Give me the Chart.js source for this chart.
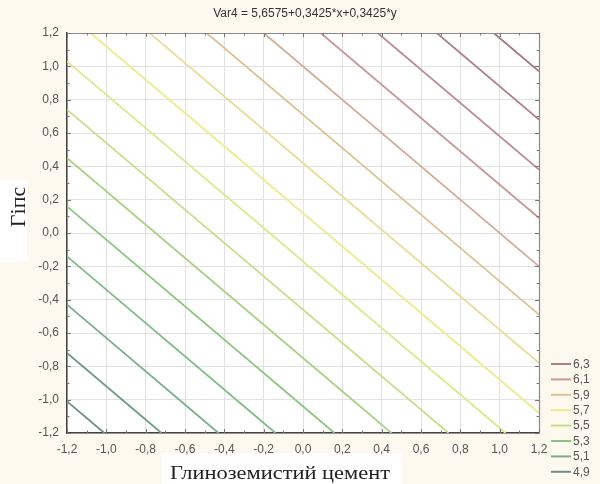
<!DOCTYPE html>
<html>
<head>
<meta charset="utf-8">
<script src="https://cdn.jsdelivr.net/npm/chart.js@4/dist/chart.umd.min.js"></script>
<style>
html,body{margin:0;padding:0;background:#fdf9ef;}
#wrap{width:600px;height:484px;position:relative;}
</style>
</head>
<body>
<div id="wrap"><canvas id="c" width="600" height="484"></canvas></div>
<script>
// Contour levels (Var4)
const levels = [4.9, 5.0, 5.1, 5.2, 5.3, 5.4, 5.5, 5.6, 5.7, 5.8, 5.9, 6.0, 6.1, 6.2, 6.3, 6.4];
// Where each contour line enters and leaves the plot (x = Глиноземистий цемент, y = Гіпс)
const startX = [-1.2, -1.2, -1.2, -1.2, -1.2, -1.2, -1.2, -1.2, -1.08, -0.78, -0.49, -0.20, 0.09, 0.38, 0.68, 0.97];
const startY = [-1.01, -0.72, -0.43, -0.14, 0.16, 0.45, 0.74, 1.03, 1.2, 1.2, 1.2, 1.2, 1.2, 1.2, 1.2, 1.2];
const endX   = [-1.01, -0.72, -0.43, -0.14, 0.16, 0.45, 0.74, 1.03, 1.2, 1.2, 1.2, 1.2, 1.2, 1.2, 1.2, 1.2];
const endY   = [-1.2, -1.2, -1.2, -1.2, -1.2, -1.2, -1.2, -1.2, -1.08, -0.78, -0.49, -0.20, 0.09, 0.38, 0.68, 0.97];
// Levels listed in the legend
const legendLevels = [6.3, 6.1, 5.9, 5.7, 5.5, 5.3, 5.1, 4.9];
// Axis ticks
const axisMin = -1.2, axisMax = 1.2, axisStep = 0.2;
const titleText = 'Var4 = 5,6575+0,3425*x+0,3425*y';
const xTitle = 'Глиноземистий цемент';
const yTitle = 'Гіпс';

const lineColors = ['#6f8f84','#6f9c84','#7aae8c','#80bc84','#8cc67e','#a9d286','#c6df88','#dde88a',
                    '#ecec8e','#e8de98','#dcc294','#d2ac96','#c8989a','#bc8a92','#ae7e86','#a07480'];

const fmt = v => { let s = (Math.round(v*10)/10).toFixed(1); if (s === '-0.0') s = '0.0'; return s.replace('.', ','); };

const datasets = levels.map((lv, i) => ({
  label: fmt(lv),
  data: [{x: startX[i], y: startY[i]}, {x: endX[i], y: endY[i]}],
  showLine: true,
  borderColor: lineColors[i],
  backgroundColor: lineColors[i],
  borderWidth: 1.8,
  pointRadius: 0,
  tension: 0
}));

const decor = {
  id: 'decor',
  beforeDraw(chart) {
    const ctx = chart.ctx, a = chart.chartArea;
    ctx.save();
    ctx.fillStyle = '#fdf9ef';
    ctx.fillRect(0, 0, chart.width, chart.height);
    ctx.fillStyle = '#ffffff';
    ctx.fillRect(0, 180, 27, 82);
    ctx.fillRect(162, 453, 240, 31);
    ctx.fillRect(a.left, a.top, a.right - a.left, a.bottom - a.top);
    ctx.restore();
  },
  afterDraw(chart) {
    const ctx = chart.ctx, a = chart.chartArea;
    const xs = chart.scales.x, ys = chart.scales.y;
    ctx.save();
    // frame top/right
    ctx.strokeStyle = '#8a8a8a';
    ctx.lineWidth = 1.2;
    ctx.beginPath();
    ctx.moveTo(a.left, a.top + 0.5); ctx.lineTo(a.right + 0.5, a.top + 0.5); ctx.lineTo(a.right + 0.5, a.bottom);
    ctx.stroke();
    // inward ticks
    ctx.strokeStyle = '#777';
    ctx.lineWidth = 1;
    ctx.beginPath();
    for (let k = 0; k <= 24; k++) {
      const v = axisMin + k * 0.1;
      const len = (k % 2 === 0) ? 4 : 2.5;
      const px = Math.round(xs.getPixelForValue(v)) + 0.5;
      const py = Math.round(ys.getPixelForValue(v)) + 0.5;
      ctx.moveTo(px, a.top); ctx.lineTo(px, a.top + len);
      ctx.moveTo(px, a.bottom); ctx.lineTo(px, a.bottom - len);
      ctx.moveTo(a.left, py); ctx.lineTo(a.left + len, py);
      ctx.moveTo(a.right, py); ctx.lineTo(a.right - len, py);
    }
    ctx.stroke();
    // title
    ctx.fillStyle = '#333';
    ctx.font = '12px "Liberation Sans", Arial, sans-serif';
    ctx.textAlign = 'center';
    ctx.textBaseline = 'middle';
    ctx.fillText(titleText, 305, 14);
    // axis titles
    ctx.fillStyle = '#222';
    ctx.textBaseline = 'alphabetic';
    ctx.save();
    ctx.translate(280, 479);
    ctx.scale(1.18, 1);
    ctx.font = '19px "Liberation Serif", "Times New Roman", serif';
    ctx.fillText(xTitle, 0, 0);
    ctx.restore();
    ctx.save();
    ctx.translate(25, 207);
    ctx.rotate(-Math.PI / 2);
    ctx.scale(1.1, 1);
    ctx.font = '20px "Liberation Serif", "Times New Roman", serif';
    ctx.fillText(yTitle, 0, 0);
    ctx.restore();
    // legend
    ctx.textBaseline = 'middle';
    ctx.font = '12px "Liberation Sans", Arial, sans-serif';
    ctx.textAlign = 'left';
    legendLevels.forEach((lv, j) => {
      const i = levels.findIndex(l => Math.abs(l - lv) < 1e-9);
      const y = 364 + j * 15.4;
      ctx.strokeStyle = lineColors[i];
      ctx.lineWidth = 2;
      ctx.beginPath(); ctx.moveTo(551, y); ctx.lineTo(571, y); ctx.stroke();
      ctx.fillStyle = '#555';
      ctx.fillText(fmt(lv), 573, y + 0.5);
    });
    ctx.restore();
  }
};

new Chart(document.getElementById('c'), {
  type: 'scatter',
  data: { datasets },
  options: {
    responsive: false,
    animation: false,
    layout: { padding: { top: 33, right: 61, left: 0, bottom: 0 } },
    plugins: { legend: { display: false }, tooltip: { enabled: false }, title: { display: false } },
    scales: {
      x: {
        type: 'linear', min: axisMin, max: axisMax,
        afterFit(s) { s.height = 51; },
        ticks: { stepSize: axisStep, color: '#555', padding: 9, maxRotation: 0,
                 font: { family: '"Liberation Sans", Arial, sans-serif', size: 12 },
                 callback: v => fmt(v) },
        grid: { color: '#e2e2e2', drawTicks: false, lineWidth: 1 },
        border: { color: '#444', width: 1.5 }
      },
      y: {
        type: 'linear', min: axisMin, max: axisMax,
        afterFit(s) { s.width = 67; },
        ticks: { stepSize: axisStep, color: '#555', padding: 8,
                 font: { family: '"Liberation Sans", Arial, sans-serif', size: 12 },
                 callback: v => fmt(v) },
        grid: { color: '#e2e2e2', drawTicks: false, lineWidth: 1 },
        border: { color: '#444', width: 1.5 }
      }
    }
  },
  plugins: [decor]
});
</script>
</body>
</html>
